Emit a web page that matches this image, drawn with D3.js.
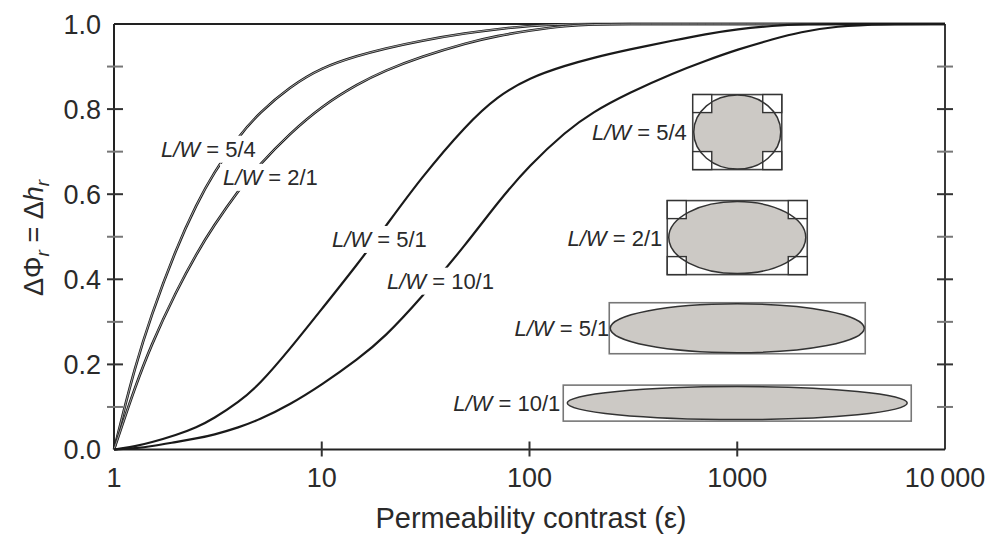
<!DOCTYPE html>
<html>
<head>
<meta charset="utf-8">
<script src="https://cdnjs.cloudflare.com/ajax/libs/d3/7.8.5/d3.min.js"></script>
<style>
  body { margin: 0; background: #fff; }
  svg { display: block; font-family: "Liberation Sans", Arial, sans-serif; }
</style>
</head>
<body>
<div id="chart"></div>
<script>
// permeability contrast values (x) and the four response curves
const contrast = [1, 1.1, 1.25, 1.5, 2, 2.5, 3, 4, 5, 7, 10, 15, 20, 30, 50, 70, 100, 150, 200, 300, 500, 700, 1000, 1500, 2000, 3000, 5000, 10000];
const ratio54 = [0, .08, .186, .312, .475, .577, .648, .738, .791, .852, .898, .926, .942, .961, .979, .988, .996, 1, 1, 1, 1, 1, 1, 1, 1, 1, 1, 1];
const ratio21 = [0, .06, .14, .243, .374, .461, .524, .611, .669, .742, .807, .86, .89, .923, .956, .972, .985, .996, .999, 1, 1, 1, 1, 1, 1, 1, 1, 1];
const ratio51 = [0, .003, .007, .016, .034, .052, .072, .112, .152, .235, .33, .438, .52, .638, .765, .83, .874, .903, .92, .94, .962, .976, .988, .996, 1, 1, 1, 1];
const ratio101 = [0, .001, .003, .007, .018, .026, .034, .052, .07, .105, .152, .213, .263, .355, .485, .58, .668, .748, .792, .838, .886, .913, .94, .965, .981, .995, 1, 1];

const ratioNames = ["5/4", "2/1", "5/1", "10/1"];
const xTicks = [1, 10, 100, 1000, 10000];
const xTickLabels = ["1", "10", "100", "1000", "10\u2009000"];
const yTicks = [0, 0.2, 0.4, 0.6, 0.8, 1.0];
const yMinor = [0.1, 0.2, 0.3, 0.4, 0.5, 0.6, 0.7, 0.8, 0.9];

const width = 989, height = 538;
const plotL = 114, plotR = 945, plotT = 24, plotB = 449.5;

const svg = d3.select("#chart").append("svg")
  .attr("width", width)
  .attr("height", height);

const x = d3.scaleLog().domain([1, 10000]).range([plotL, plotR]);
const y = d3.scaleLinear().domain([0, 1]).range([plotB, plotT]);

// frame
svg.append("line").attr("x1", plotL).attr("x2", plotR).attr("y1", plotT).attr("y2", plotT)
  .attr("stroke", "#222").attr("stroke-width", 1.8);
svg.append("line").attr("x1", plotR).attr("x2", plotR).attr("y1", plotT).attr("y2", plotB)
  .attr("stroke", "#222").attr("stroke-width", 1.8);
svg.append("line").attr("x1", plotL).attr("x2", plotL).attr("y1", plotT).attr("y2", plotB)
  .attr("stroke", "#222").attr("stroke-width", 2);
svg.append("line").attr("x1", plotL).attr("x2", plotR).attr("y1", plotB).attr("y2", plotB)
  .attr("stroke", "#222").attr("stroke-width", 2);

// ticks crossing the axes
svg.selectAll(".ytickL").data(yMinor).enter().append("line")
  .attr("x1", plotL - 7).attr("x2", plotL + 9)
  .attr("y1", d => y(d)).attr("y2", d => y(d))
  .attr("stroke", (d, i) => i % 2 ? "#333" : "#777").attr("stroke-width", 2);
svg.selectAll(".ytickR").data(yMinor).enter().append("line")
  .attr("x1", plotR - 8).attr("x2", plotR + 8)
  .attr("y1", d => y(d)).attr("y2", d => y(d))
  .attr("stroke", (d, i) => i % 2 ? "#333" : "#777").attr("stroke-width", 2);
svg.selectAll(".xtick").data(xTicks.slice(1, 4)).enter().append("line")
  .attr("x1", d => x(d)).attr("x2", d => x(d))
  .attr("y1", plotB - 8).attr("y2", plotB + 7)
  .attr("stroke", "#333").attr("stroke-width", 2);

// tick labels
svg.selectAll(".ylab").data(yTicks).enter().append("text")
  .attr("x", plotL - 13).attr("y", d => y(d)).attr("dy", "0.36em")
  .attr("text-anchor", "end").attr("font-size", 27).attr("fill", "#2a2a2a")
  .text(d => d3.format(".1f")(d));
svg.selectAll(".xlab").data(xTicks).enter().append("text")
  .attr("x", d => x(d)).attr("y", 487)
  .attr("text-anchor", "middle").attr("font-size", 27).attr("fill", "#2a2a2a")
  .text((d, i) => xTickLabels[i]);

// axis titles
svg.append("text").attr("x", 531).attr("y", 528)
  .attr("text-anchor", "middle").attr("font-size", 29).attr("fill", "#2a2a2a")
  .text("Permeability contrast (\u03b5)");

const yt = svg.append("text")
  .attr("transform", "translate(43,238) rotate(-90)")
  .attr("text-anchor", "middle").attr("font-size", 27).attr("fill", "#2a2a2a");
yt.append("tspan").text("\u0394\u03a6");
yt.append("tspan").attr("font-style", "italic").attr("font-size", 19).attr("dy", 6).text("r");
yt.append("tspan").attr("dy", -6).text(" = \u0394");
yt.append("tspan").attr("font-style", "italic").text("h");
yt.append("tspan").attr("font-style", "italic").attr("font-size", 19).attr("dy", 6).text("r");

// curves
const series = [ratio54, ratio21, ratio51, ratio101];
const line = d3.line()
  .x((d, i) => x(contrast[i]))
  .y(d => y(d))
  .curve(d3.curveBasis);

series.forEach((s, k) => {
  if (k < 2) {
    svg.append("path").attr("d", line(s)).attr("fill", "none")
      .attr("stroke", "#1a1a1a").attr("stroke-width", 2.6);
    svg.append("path").attr("d", line(s)).attr("fill", "none")
      .attr("stroke", "#fff").attr("stroke-width", 0.7).attr("opacity", 0.85);
  } else {
    svg.append("path").attr("d", line(s)).attr("fill", "none")
      .attr("stroke", "#1a1a1a").attr("stroke-width", 2.2);
  }
});

// curve labels, anchored in data space (left edge, baseline)
const curveLabelAt = [[1.684, 0.688], [3.35, 0.622], [11.2, 0.476], [20.6, 0.378]];

function lwLabel(g, px, py, name, anchor) {
  const t = g.append("text").attr("x", px).attr("y", py)
    .attr("text-anchor", anchor).attr("font-size", 22).attr("fill", "#2a2a2a");
  t.append("tspan").attr("font-style", "italic").text("L/W");
  t.append("tspan").text(" = " + name);
  return t;
}

ratioNames.forEach((name, i) => {
  const g = svg.append("g");
  const t = lwLabel(g, x(curveLabelAt[i][0]), y(curveLabelAt[i][1]), name, "start");
  const b = t.node().getBBox();
  g.insert("rect", "text")
    .attr("x", b.x - 3).attr("y", b.y - 1)
    .attr("width", b.width + 6).attr("height", b.height + 2)
    .attr("fill", "#fff");
});

// inset gridblock sketches, centred at contrast 1000
const insetLayout = [
  { v: 0.746, w: 89, h: 75, rx: 43.5, ry: 37, cw: 19, ch: 18, box: "#444", gap: 6 },
  { v: 0.498, w: 140, h: 74, rx: 68.5, ry: 36, cw: 19, ch: 18, box: "#444", gap: 5 },
  { v: 0.285, w: 256, h: 51, rx: 127, ry: 24.5, cw: 0, ch: 0, box: "#777", gap: 0 },
  { v: 0.109, w: 348, h: 36, rx: 170, ry: 16.5, cw: 0, ch: 0, box: "#777", gap: 3 }
];
const cx = x(1000);

ratioNames.forEach((name, i) => {
  const L = insetLayout[i];
  const cy = y(L.v);
  const x0 = cx - L.w / 2, x1 = cx + L.w / 2, y0 = cy - L.h / 2, y1 = cy + L.h / 2;
  const g = svg.append("g");
  g.append("rect").attr("x", x0).attr("y", y0).attr("width", L.w).attr("height", L.h)
    .attr("fill", "#fff").attr("stroke", L.box).attr("stroke-width", 1.6);
  g.append("ellipse").attr("cx", cx).attr("cy", cy).attr("rx", L.rx).attr("ry", L.ry)
    .attr("fill", "#ccc9c5");
  if (L.cw) {
    const corners = [[x0, y0], [x1 - L.cw, y0], [x0, y1 - L.ch], [x1 - L.cw, y1 - L.ch]];
    corners.forEach(c => {
      g.append("rect").attr("x", c[0]).attr("y", c[1]).attr("width", L.cw).attr("height", L.ch)
        .attr("fill", "#fff").attr("stroke", "#333").attr("stroke-width", 1.4);
    });
  }
  g.append("ellipse").attr("cx", cx).attr("cy", cy).attr("rx", L.rx).attr("ry", L.ry)
    .attr("fill", "none").attr("stroke", "#333").attr("stroke-width", 1.5);
  lwLabel(g, x0 - L.gap, cy + 8, name, "end");
});
</script>
</body>
</html>
